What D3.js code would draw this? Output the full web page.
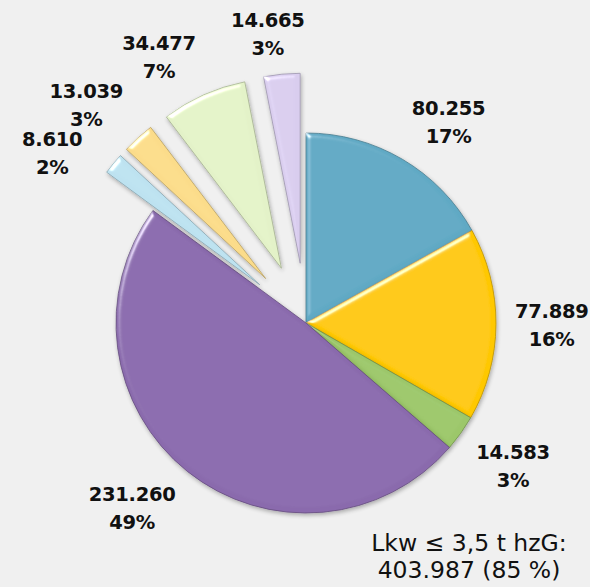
<!doctype html>
<html>
<head>
<meta charset="utf-8"/>
<title>Lkw Bestand</title>
<script src="https://d3js.org/d3.v7.min.js"></script>
<style>
body{margin:0;background:#f0f0f0;}
text{fill:#111;}
</style>
</head>
<body>
<script>
// slices clockwise from 12 o'clock
var values = [80255, 77889, 14583, 231260, 8610, 13039, 34477, 14665];
var exploded = [false, false, false, false, true, true, true, true];
var colors = ["#60a9c4", "#ffc800", "#9cc76a", "#8a6aad", "#bde2f0", "#fbdc8a", "#e3f2c8", "#d9cdee"];
var groupTitle = "Lkw \u2264 3,5 t hzG:";

var W = 590, H = 587;
var cx = 306, cy = 323, R = 190, explode = 60, labelR = 209;

var de = d3.formatLocale({decimal: ",", thousands: ".", grouping: [3], currency: ["", " \u20ac"]});
var fmtNum = de.format(",d");
var fmtPct = d3.format(".0%");

var total = d3.sum(values);

var svg = d3.select("body").append("svg")
    .attr("width", W)
    .attr("height", H);

// bevel + shadow
var defs = svg.append("defs");
var f = defs.append("filter").attr("id", "bevel")
    .attr("x", "-20%").attr("y", "-20%").attr("width", "140%").attr("height", "140%");
f.append("feGaussianBlur").attr("in", "SourceAlpha").attr("stdDeviation", 2.5).attr("result", "blur");
var spec = f.append("feSpecularLighting").attr("in", "blur")
    .attr("surfaceScale", 3).attr("specularConstant", 1).attr("specularExponent", 35)
    .attr("lighting-color", "#ffffff").attr("result", "spec");
spec.append("feDistantLight").attr("azimuth", 225).attr("elevation", 35);
f.append("feComposite").attr("in", "spec").attr("in2", "SourceAlpha").attr("operator", "in").attr("result", "specIn");
f.append("feComposite").attr("in", "SourceGraphic").attr("in2", "specIn")
    .attr("operator", "arithmetic").attr("k1", 0).attr("k2", 1).attr("k3", 0.8).attr("k4", 0).attr("result", "lit");
f.append("feGaussianBlur").attr("in", "SourceAlpha").attr("stdDeviation", 2).attr("result", "sblur");
f.append("feOffset").attr("in", "sblur").attr("dx", 1).attr("dy", 2).attr("result", "soff");
f.append("feComponentTransfer").attr("in", "soff").attr("result", "shadow")
    .append("feFuncA").attr("type", "linear").attr("slope", 0.3);
var m = f.append("feMerge");
m.append("feMergeNode").attr("in", "shadow");
m.append("feMergeNode").attr("in", "lit");

var pie = d3.pie().sort(null).value(function(d){ return d; });
var arcs = pie(values);
var arc = d3.arc().innerRadius(0).outerRadius(R);

function mid(d){ return (d.startAngle + d.endAngle) / 2; }
function shift(i){ return exploded[i] ? explode : 0; }
function clamp(v){ return Math.max(-1, Math.min(1, v)); }

var g = svg.append("g").attr("transform", "translate(" + cx + "," + cy + ")");

g.selectAll("path.slice")
    .data(arcs)
    .enter()
    .append("path")
    .attr("class", "slice")
    .attr("d", arc)
    .attr("transform", function(d, i){
        var a = mid(d), s = shift(i);
        return "translate(" + (s * Math.sin(a)) + "," + (-s * Math.cos(a)) + ")";
    })
    .attr("fill", function(d, i){ return colors[i]; })
    .attr("stroke", function(d, i){ return d3.color(colors[i]).darker(0.9); })
    .attr("stroke-width", 0.8)
    .attr("filter", "url(#bevel)");

// labels (value + percent), outside end
var labels = g.selectAll("g.lab")
    .data(arcs)
    .enter()
    .append("g")
    .attr("class", "lab")
    .style("font-family", "'DejaVu Sans', sans-serif")
    .style("font-weight", "bold")
    .style("font-size", "19.5px")
    .style("letter-spacing", "-0.3px")
    .attr("text-anchor", "middle");

labels.append("text").attr("y", -14).text(function(d){ return fmtNum(d.value); });
labels.append("text").attr("y", 14).text(function(d){ return fmtPct(d.value / total); });

// box of the label: visual top -29, bottom 14 around the group origin
var hh = 21.5, off = 7.5, gap = 5;
var pos = [];
labels.each(function(d, i){
    var w = this.getBBox().width;
    pos[i] = {w: w, a: mid(d), i: i};
});

function place(p, a){
    var base = shift(p.i), sa = Math.sin(a), ca = Math.cos(a);
    var ax = (base * Math.sin(p.a)) + labelR * sa;
    var ay = -(base * Math.cos(p.a)) - labelR * ca;
    p.x = ax + clamp(3.4 * sa) * p.w / 2;
    p.y = ay - clamp(3.4 * ca) * hh;
}
function hit(p, q){
    return Math.abs(p.x - q.x) < (p.w + q.w) / 2 + gap && Math.abs(p.y - q.y) < 2 * hh + gap;
}

// place from the last slice backwards, slide along the circle on overlap
var done = [];
for (var k = pos.length - 1; k >= 0; k--) {
    var p = pos[k], a = p.a;
    place(p, a);
    var n = 0;
    while (n < 300) {
        var other = done.find(function(q){ return hit(p, q); });
        if (!other) break;
        a += (p.a < other.a ? -1 : 1) * 0.005;
        place(p, a);
        n++;
    }
    done.push(p);
}

labels.attr("transform", function(d, i){
    return "translate(" + pos[i].x + "," + (pos[i].y + off) + ")";
});

// group total
var groupSum = d3.sum(values.filter(function(v, i){ return !exploded[i]; }));
var tot = svg.append("text")
    .attr("text-anchor", "middle")
    .style("font-family", "'DejaVu Sans', sans-serif")
    .style("font-size", "23.5px");
tot.append("tspan").attr("x", 469).attr("y", 551).text(groupTitle);
tot.append("tspan").attr("x", 469).attr("y", 578)
    .text(fmtNum(groupSum) + " (" + Math.round(groupSum / total * 100) + " %)");
</script>
</body>
</html>
